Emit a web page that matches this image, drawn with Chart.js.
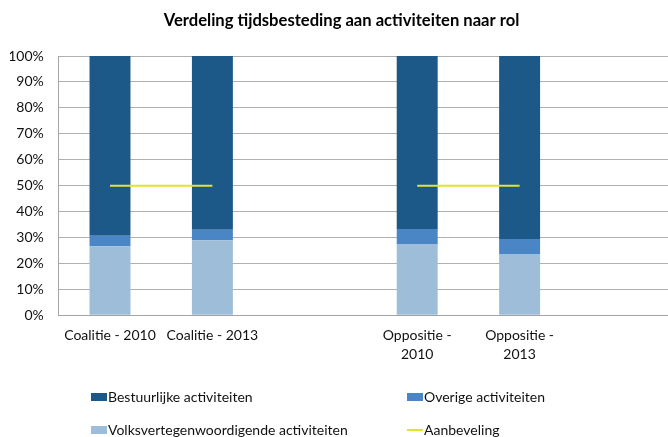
<!DOCTYPE html>
<html>
<head>
<meta charset="utf-8">
<script src="https://cdn.jsdelivr.net/npm/chart.js@4/dist/chart.umd.min.js"></script>
<style>
  html, body { margin: 0; padding: 0; background: #fff; overflow: hidden; }
  #wrap { position: relative; width: 668px; height: 437px; overflow: hidden; }
  #c { position: absolute; left: 0; top: 0; }
  .lg { position: absolute; font-family: Lato, "Open Sans", sans-serif; font-size: 14px; color: #111; white-space: nowrap; line-height: 16px; }
  .lg .key { position: absolute; }
</style>
</head>
<body>
<div id="wrap">
  <canvas id="c" width="682" height="437" style="width:682px;height:437px"></canvas>
</div>
<script>
const categories = ["Coalitie - 2010", "Coalitie - 2013", "", ["Oppositie -", "2010"], ["Oppositie -", "2013"], ""];
const volksvertegenwoordigend = [26.6, 28.9, null, 27.5, 23.6, null];
const overige = [4.1, 4.1, null, 5.8, 5.8, null];
const bestuurlijk = [69.3, 67.0, null, 66.7, 70.6, null];
const aanbeveling = [50, 50, null, 50, 50, null];
const yTickValues = [0, 10, 20, 30, 40, 50, 60, 70, 80, 90, 100];

const FONT = "Lato, 'Open Sans', sans-serif";

const chart = new Chart(document.getElementById('c'), {
  data: {
    labels: categories,
    datasets: [
      { type: 'bar', label: 'Volksvertegenwoordigende activiteiten', data: volksvertegenwoordigend, backgroundColor: '#9ebdd8', stack: 'bars', order: 1 },
      { type: 'bar', label: 'Overige activiteiten', data: overige, backgroundColor: '#4a86c5', stack: 'bars', order: 1 },
      { type: 'bar', label: 'Bestuurlijke activiteiten', data: bestuurlijk, backgroundColor: '#1d5988', stack: 'bars', order: 1 },
      { type: 'line', label: 'Aanbeveling', data: aanbeveling, borderColor: '#e3e32c', borderWidth: 2, pointRadius: 0, spanGaps: false, stack: 'line', order: 0, fill: false }
    ]
  },
  options: {
    responsive: false,
    animation: false,
    devicePixelRatio: 1,
    layout: { padding: { left: 9.8, right: 8.8, top: 0, bottom: 0 } },
    datasets: { bar: { barPercentage: 0.4, categoryPercentage: 1.0 } },
    plugins: {
      legend: { display: false },
      tooltip: { enabled: false },
      title: {
        display: true,
        text: 'Verdeling tijdsbesteding aan activiteiten naar rol',
        color: '#000',
        font: { family: FONT, size: 16.6, weight: 'bold', lineHeight: 1.2 },
        padding: { top: 10.6, bottom: 25.5 }
      }
    },
    scales: {
      x: {
        stacked: true,
        grid: { display: false, drawTicks: false },
        border: { display: true, color: '#a4a4a4', width: 1 },
        ticks: { autoSkip: false, maxRotation: 0, minRotation: 0, padding: 10, color: '#111', font: { family: FONT, size: 14, lineHeight: 1.4 } },
        afterFit: (s) => { s.height = 437 - 315.3; }
      },
      y: {
        stacked: true,
        min: 0, max: 100,
        afterBuildTicks: (s) => { s.ticks = yTickValues.map(v => ({ value: v })); },
        grid: { color: '#b0b0b0', lineWidth: 1, drawTicks: false },
        border: { display: true, color: '#a4a4a4', width: 1 },
        ticks: { padding: 15, color: '#111', font: { family: FONT, size: 14 }, callback: (v) => v + '%' },
        afterFit: (s) => { s.width = 49; }
      }
    }
  }
});

// Legend (2 x 2 grid, as in the reference)
const legendOrder = [
  { label: chart.data.datasets[2].label, color: chart.data.datasets[2].backgroundColor, kind: 'box', x: 91, y: 396.5 },
  { label: chart.data.datasets[1].label, color: chart.data.datasets[1].backgroundColor, kind: 'box', x: 407, y: 396.5 },
  { label: chart.data.datasets[0].label, color: chart.data.datasets[0].backgroundColor, kind: 'box', x: 91, y: 429.5 },
  { label: chart.data.datasets[3].label, color: chart.data.datasets[3].borderColor, kind: 'line', x: 407, y: 429.5 }
];
const wrap = document.getElementById('wrap');
legendOrder.forEach(it => {
  const d = document.createElement('div');
  d.className = 'lg';
  d.style.left = it.x + 'px';
  d.style.top = (it.y - 8) + 'px';
  d.style.paddingLeft = '17px';
  const k = document.createElement('span');
  k.className = 'key';
  k.style.left = '0px';
  k.style.width = '16px';
  if (it.kind === 'box') { k.style.top = '4px'; k.style.height = '8px'; }
  else { k.style.top = '7.5px'; k.style.height = '1.5px'; }
  k.style.background = it.color;
  d.appendChild(k);
  d.appendChild(document.createTextNode(it.label));
  wrap.appendChild(d);
});
</script>
</body>
</html>
